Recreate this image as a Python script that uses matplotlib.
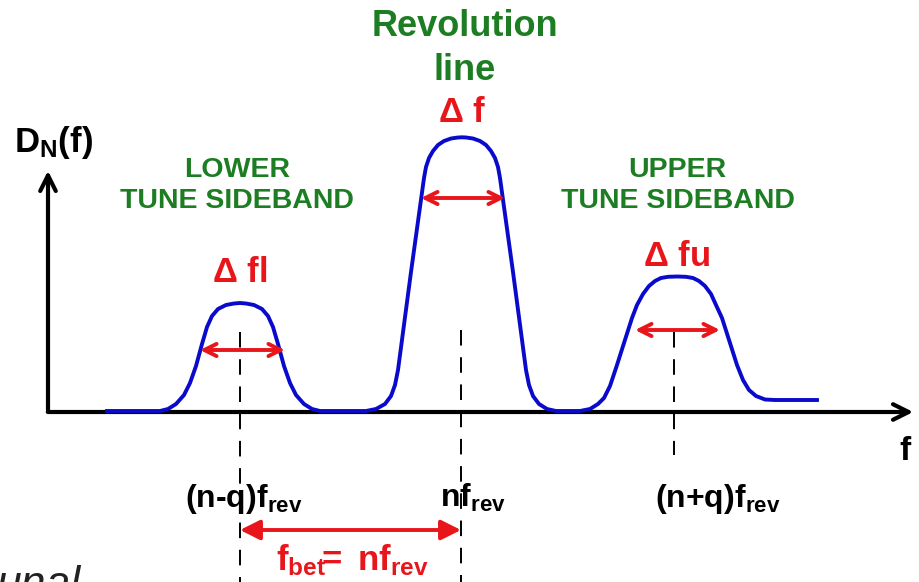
import matplotlib
matplotlib.use('Agg')
import matplotlib.pyplot as plt

plt.rcParams['font.family'] = ['Liberation Sans', 'DejaVu Sans']
plt.rcParams['mathtext.fontset'] = 'custom'
plt.rcParams['mathtext.rm'] = 'Liberation Sans'
plt.rcParams['mathtext.bf'] = 'Liberation Sans:bold'
plt.rcParams['mathtext.it'] = 'Liberation Sans:italic'

RED = '#e8161b'
GREEN = '#1c7d22'
BLUE = '#0a0acc'

# spectrum outline (x, y in picture pixels)
curve_pts = [
    # lower sideband
    (107, 411), (160, 411), (168, 409), (176, 404), (184, 395), (190, 383), (196, 366),
    (202, 344), (207, 327), (212, 316), (218, 309), (226, 305), (234, 303.5), (240, 303),
    (246, 303.5), (254, 305), (262, 309), (268, 316), (273, 327), (278, 344), (284, 366),
    (290, 383), (296, 395), (304, 404), (312, 409), (320, 411),
    # revolution line
    (366, 411), (376, 409), (385, 404), (391, 396), (395, 385), (398, 370), (411, 272),
    (424, 178), (426, 167), (429, 158), (433, 151), (438, 145), (444, 141), (451, 138.5),
    (458, 137.5), (462, 137.3), (466, 137.5), (473, 138.5), (480, 141), (486, 145),
    (491, 151), (495, 158), (498, 167), (500, 178), (513, 272), (526, 370), (529, 385),
    (533, 396), (539, 404), (547, 409), (556, 411),
    # upper sideband
    (580, 411), (590, 409), (598, 404), (604, 398), (610, 386), (617, 365), (624, 343),
    (632, 318), (637, 305), (643, 294), (649, 286), (655, 281), (661, 278), (668, 276.8),
    (677, 276.5), (686, 276.8), (693, 278), (699, 281), (705, 286), (711, 294), (716, 305),
    (722, 318), (730, 343), (737, 365), (743, 380), (749, 390), (756, 396), (765, 399.5),
    (775, 400), (817, 400),
]
curve_x = [p[0] for p in curve_pts]
curve_y = [p[1] for p in curve_pts]

# peak centres (dashed markers) and their width arrows
marker_x = [240, 461, 674]
marker_top = [332, 330, 332]
marker_bottom = [582, 582, 455]
width_left = [200, 421, 635]
width_right = [285, 505, 720]
width_y = [350, 198, 330]
width_labels = [r'$\mathbf{\Delta\ fl}$', r'$\mathbf{\Delta\ f}$', r'$\mathbf{\Delta\ fu}$']
width_label_pos = [(240, 272), (462, 113), (677, 256)]

freq_labels = [r'$\mathbf{(n‐q)f_{rev}}$', r'$\mathbf{nf_{rev}}$', r'$\mathbf{(n{+}q)f_{rev}}$']
freq_label_x = [185, 440, 655]
freq_label_y = 507

fig = plt.figure(figsize=(9.2, 5.82), dpi=100)
ax = fig.add_axes([0, 0, 1, 1])
ax.set_xlim(0, 920)
ax.set_ylim(582, 0)
ax.axis('off')

# axes arrows
ax.annotate('', xy=(916, 412), xytext=(45, 412),
            arrowprops=dict(arrowstyle='->', lw=3, color='black', mutation_scale=28))
ax.annotate('', xy=(48, 168), xytext=(48, 413),
            arrowprops=dict(arrowstyle='->', lw=3, color='black', mutation_scale=28))

ax.plot(curve_x, curve_y, color=BLUE, lw=2.8, solid_joinstyle='round', zorder=3)

for x, t, b in zip(marker_x, marker_top, marker_bottom):
    ax.plot([x, x], [t, b], color='black', lw=1.4, dashes=(8, 6), zorder=5)

for l, r, y in zip(width_left, width_right, width_y):
    ax.annotate('', xy=(r, y), xytext=(l, y),
                arrowprops=dict(arrowstyle='<->', lw=2.8, color=RED, mutation_scale=22,
                                shrinkA=0, shrinkB=0), zorder=4)

for s, (x, y) in zip(width_labels, width_label_pos):
    ax.text(x, y, s, color=RED, fontsize=25, ha='center', va='center')

ax.text(465, 26, 'Revolution', color=GREEN, fontsize=26, fontweight='bold', ha='center', va='center')
ax.text(465, 70, 'line', color=GREEN, fontsize=26, fontweight='bold', ha='center', va='center')
ax.text(237, 170, 'LOWER', color=GREEN, fontsize=20.5, fontweight='bold', ha='center', va='center')
ax.text(237, 201, 'TUNE SIDEBAND', color=GREEN, fontsize=20.5, fontweight='bold', ha='center', va='center')
ax.text(677, 170, 'UPPER', color=GREEN, fontsize=20.5, fontweight='bold', ha='center', va='center')
ax.text(678, 201, 'TUNE SIDEBAND', color=GREEN, fontsize=20.5, fontweight='bold', ha='center', va='center')

ax.text(14, 152, r'$\mathbf{D_N(f)}$', color='black', fontsize=25, ha='left', va='baseline')
ax.text(905, 452, 'f', color='black', fontsize=24, fontweight='bold', ha='center', va='center')

for s, x in zip(freq_labels, freq_label_x):
    ax.text(x, freq_label_y, s, color='black', fontsize=23, ha='left', va='baseline', zorder=2)

# beat frequency arrow
ax.annotate('', xy=(461, 530), xytext=(240, 530),
            arrowprops=dict(arrowstyle='<|-|>', lw=2.8, color=RED, mutation_scale=30,
                            shrinkA=0, shrinkB=0))
ax.text(352, 570, r'$\mathbf{f_{bet}\!\!=\ nf_{rev}}$', color=RED, fontsize=25, ha='center', va='baseline')

ax.text(-4, 597, 'unal', color='#222222', fontsize=32, style='italic', ha='left', va='baseline')

fig.savefig('out.png', dpi=100)
